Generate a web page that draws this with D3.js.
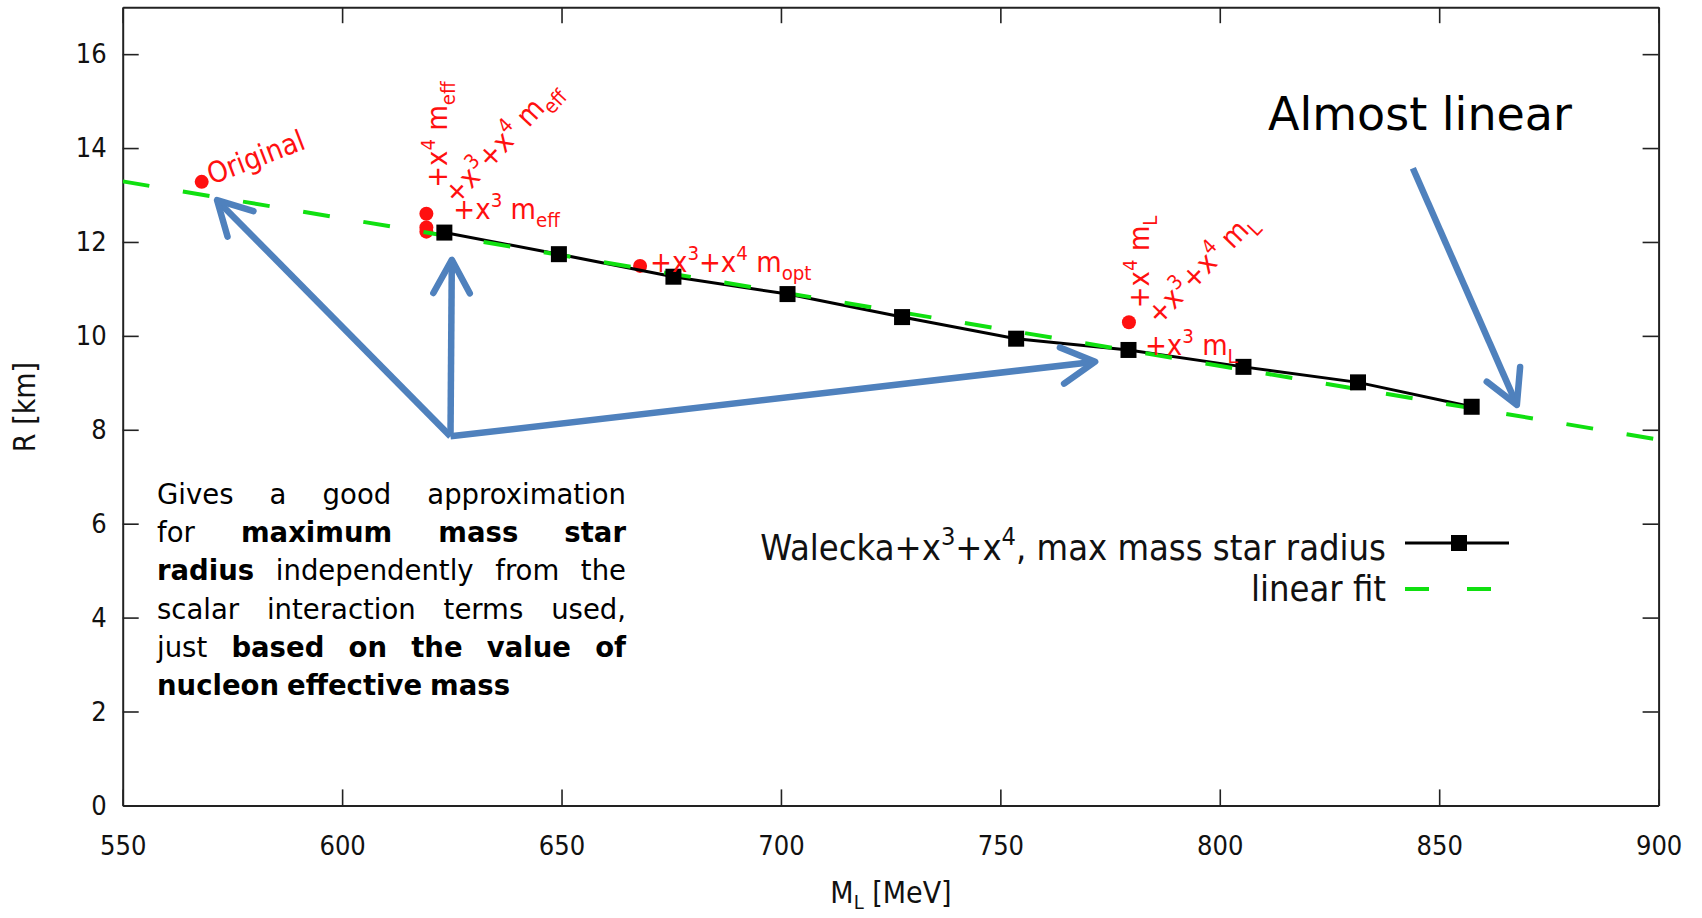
<!DOCTYPE html>
<html>
<head>
<meta charset="utf-8">
<script src="https://cdnjs.cloudflare.com/ajax/libs/d3/7.8.5/d3.min.js"></script>
<style>
body { margin: 0; background: #fff; }
</style>
</head>
<body>
<div id="chart-area"></div>
<script>
// Walecka+x3+x4 max mass star radius (black squares)
var walM = [623.3, 649.4, 675.5, 701.5, 727.6, 753.6, 779.2, 805.4, 831.5, 857.4]
var walR = [12.20, 11.74, 11.26, 10.89, 10.40, 9.94, 9.70, 9.34, 9.01, 8.49]

// linear fit end points
var fitM = [550, 900]
var fitR = [13.29, 7.79]

// red points (other parametrisations)
var redM = [568.0, 619.2, 619.2, 619.2, 667.9, 779.3, 779.2, 779.2]
var redR = [13.28, 12.60, 12.31, 12.22, 11.49, 10.29, 9.72, 9.70]

var xTicks = [550, 600, 650, 700, 750, 800, 850, 900]
var yTicks = [0, 2, 4, 6, 8, 10, 12, 14, 16]

// blue annotation arrows, in data units
var arrowFromM = [624.7, 624.7, 624.7, 844.0]
var arrowFromR = [7.86, 7.86, 7.86, 13.57]
var arrowToM = [571.5, 625.0, 771.6, 867.7]
var arrowToR = [12.89, 11.62, 9.45, 8.53]

var W = 1702, H = 918
var margin = { left: 122.7, right: W - 1658.6, top: 7.2, bottom: H - 805.4 }
var width = W - margin.left - margin.right
var height = H - margin.top - margin.bottom

var svg = d3.select("#chart-area").append("svg")
    .attr("width", W)
    .attr("height", H)
    .style("display", "block")
    .style("background", "#fff")

var g = svg.append("g")
    .attr("transform", "translate(" + margin.left + "," + margin.top + ")")

var xScale = d3.scaleLinear().domain([550, 900]).range([0, width])
var yScale = d3.scaleLinear().domain([0, 17]).range([height, 0])

var tickFont = "'DejaVu Sans Condensed', 'DejaVu Sans', sans-serif"
var tickLen = 16

function styleAxis(sel) {
    sel.select(".domain").attr("stroke", "#222").attr("stroke-width", 2)
    sel.selectAll(".tick line").attr("stroke", "#222").attr("stroke-width", 1.6)
    sel.selectAll("text").style("font-family", tickFont).style("font-size", "27px").attr("fill", "#111")
}

g.append("g")
    .attr("transform", "translate(0," + height + ")")
    .call(d3.axisBottom(xScale).tickValues(xTicks).tickSizeInner(-tickLen).tickSizeOuter(0).tickPadding(30).tickFormat(d3.format("d")))
    .call(styleAxis)
g.append("g")
    .call(d3.axisTop(xScale).tickValues(xTicks).tickSizeInner(-tickLen).tickSizeOuter(0).tickFormat(""))
    .call(styleAxis)
g.append("g")
    .call(d3.axisLeft(yScale).tickValues(yTicks).tickSizeInner(-tickLen).tickSizeOuter(0).tickPadding(16).tickFormat(d3.format("d")))
    .call(styleAxis)
g.append("g")
    .attr("transform", "translate(" + width + ",0)")
    .call(d3.axisRight(yScale).tickValues(yTicks).tickSizeInner(-tickLen).tickSizeOuter(0).tickFormat(""))
    .call(styleAxis)

// axis titles
svg.append("text")
    .attr("transform", "translate(35,407) rotate(-90)")
    .attr("text-anchor", "middle")
    .style("font-family", tickFont)
    .style("font-size", "30px")
    .attr("fill", "#111")
    .text("R [km]")

var xt = svg.append("text")
    .attr("x", 891).attr("y", 903)
    .attr("text-anchor", "middle")
    .style("font-family", tickFont)
    .style("font-size", "30px")
    .attr("fill", "#111")
xt.append("tspan").text("M")
xt.append("tspan").text("L").attr("dy", 6).style("font-size", "20px")
xt.append("tspan").text(" [MeV]").attr("dy", -6)

// text with super/subscripts
function rich(sel, parts, size) {
    var shift = 0
    parts.forEach(function(p) {
        var t = sel.append("tspan").text(p[0])
        var target = p[1] == "sup" ? -0.42 * size : p[1] == "sub" ? 0.28 * size : 0
        t.attr("dy", target - shift)
        shift = target
        if (p[1] != "n") t.style("font-size", (size * 0.7) + "px")
    })
}

var plot = g.append("g")
plot.append("clipPath").attr("id", "clip")
    .append("rect").attr("width", width).attr("height", height)

// red points
plot.selectAll(".red").data(d3.range(redM.length)).enter()
    .append("circle")
    .attr("class", "red")
    .attr("cx", function(i) { return xScale(redM[i]) })
    .attr("cy", function(i) { return yScale(redR[i]) })
    .attr("r", 7)
    .attr("fill", "#ff1010")

// black series line
var line = d3.line()
    .x(function(i) { return xScale(walM[i]) })
    .y(function(i) { return yScale(walR[i]) })
plot.append("path")
    .datum(d3.range(walM.length))
    .attr("d", line)
    .attr("fill", "none")
    .attr("stroke", "#000")
    .attr("stroke-width", 3)

// linear fit
var fitLine = d3.line()
    .x(function(i) { return xScale(fitM[i]) })
    .y(function(i) { return yScale(fitR[i]) })
plot.append("path")
    .datum(d3.range(fitM.length))
    .attr("d", fitLine)
    .attr("clip-path", "url(#clip)")
    .attr("fill", "none")
    .attr("stroke", "#10e010")
    .attr("stroke-width", 4)
    .attr("stroke-dasharray", "27,34")

plot.selectAll(".sq").data(d3.range(walM.length)).enter()
    .append("rect")
    .attr("class", "sq")
    .attr("x", function(i) { return xScale(walM[i]) - 8 })
    .attr("y", function(i) { return yScale(walR[i]) - 8 })
    .attr("width", 16)
    .attr("height", 16)
    .attr("fill", "#000")

// red labels: point index, pixel offset, rotation
var redFont = 29
var redLabels = [
    { i: 0, dx: 10, dy: 3, rot: -21, parts: [["Original", "n"]] },
    { i: 1, dx: 21, dy: -26, rot: -90, parts: [["+x", "n"], ["4", "sup"], [" m", "n"], ["eff", "sub"]] },
    { i: 1, dx: 30, dy: -8, rot: -47, parts: [["+x", "n"], ["3", "sup"], ["+x", "n"], ["4", "sup"], [" m", "n"], ["eff", "sub"]] },
    { i: 1, dx: 27, dy: 5, rot: 0, parts: [["+x", "n"], ["3", "sup"], [" m", "n"], ["eff", "sub"]] },
    { i: 4, dx: 10, dy: 6, rot: 0, parts: [["+x", "n"], ["3", "sup"], ["+x", "n"], ["4", "sup"], [" m", "n"], ["opt", "sub"]] },
    { i: 5, dx: 20, dy: -14, rot: -90, parts: [["+x", "n"], ["4", "sup"], [" m", "n"], ["L", "sub"]] },
    { i: 5, dx: 30, dy: 4, rot: -46, parts: [["+x", "n"], ["3", "sup"], ["+x", "n"], ["4", "sup"], [" m", "n"], ["L", "sub"]] },
    { i: 5, dx: 16, dy: 33, rot: 0, parts: [["+x", "n"], ["3", "sup"], [" m", "n"], ["L", "sub"]] }
]
redLabels.forEach(function(l) {
    var px = xScale(redM[l.i]) + l.dx
    var py = yScale(redR[l.i]) + l.dy
    var t = g.append("text")
        .attr("transform", "translate(" + px + "," + py + ") rotate(" + l.rot + ")")
        .style("font-family", tickFont)
        .style("font-size", redFont + "px")
        .attr("fill", "#ff1010")
    rich(t, l.parts, redFont)
})

// legend
var legend = svg.append("g").attr("transform", "translate(1386,0)")
var lt1 = legend.append("text")
    .attr("x", 0).attr("y", 560)
    .attr("text-anchor", "end")
    .style("font-family", tickFont)
    .style("font-size", "36px")
    .attr("fill", "#111")
rich(lt1, [["Walecka+x", "n"], ["3", "sup"], ["+x", "n"], ["4", "sup"], [", max mass star radius", "n"]], 36)
legend.append("text")
    .attr("x", 0).attr("y", 601)
    .attr("text-anchor", "end")
    .style("font-family", tickFont)
    .style("font-size", "36px")
    .attr("fill", "#111")
    .text("linear fit")
legend.append("line")
    .attr("x1", 19).attr("x2", 123).attr("y1", 543).attr("y2", 543)
    .attr("stroke", "#000").attr("stroke-width", 3)
legend.append("rect")
    .attr("x", 65).attr("y", 535).attr("width", 16).attr("height", 16)
    .attr("fill", "#000")
legend.append("line")
    .attr("x1", 19).attr("x2", 123).attr("y1", 589).attr("y2", 589)
    .attr("stroke", "#10e010").attr("stroke-width", 4)
    .attr("stroke-dasharray", "24,38")

// blue arrows
var blue = "#4f81bd"
d3.range(arrowFromM.length).forEach(function(i) {
    var x1 = xScale(arrowFromM[i]), y1 = yScale(arrowFromR[i])
    var x2 = xScale(arrowToM[i]), y2 = yScale(arrowToR[i])
    var a = Math.atan2(y2 - y1, x2 - x1)
    var hl = 38, ha = 0.5
    g.append("line")
        .attr("x1", x1).attr("y1", y1).attr("x2", x2).attr("y2", y2)
        .attr("stroke", blue).attr("stroke-width", 6.5)
    g.append("path")
        .attr("d", "M" + (x2 - hl * Math.cos(a - ha)) + "," + (y2 - hl * Math.sin(a - ha)) +
            "L" + x2 + "," + y2 +
            "L" + (x2 - hl * Math.cos(a + ha)) + "," + (y2 - hl * Math.sin(a + ha)))
        .attr("fill", "none")
        .attr("stroke", blue).attr("stroke-width", 6.5)
        .attr("stroke-linecap", "round").attr("stroke-linejoin", "round")
})

svg.append("text")
    .attr("x", 1268).attr("y", 130)
    .style("font-family", "'DejaVu Sans', sans-serif")
    .style("font-size", "46px")
    .attr("fill", "#000")
    .text("Almost linear")

// justified paragraph
var paraLines = [
    [["Gives a good approximation", false]],
    [["for", false], ["maximum mass star", true]],
    [["radius", true], ["independently from the", false]],
    [["scalar interaction terms used,", false]],
    [["just", false], ["based on the value of", true]],
    [["nucleon effective mass", true]]
]
var paraX = 157, paraW = 469, paraY = 504, paraStep = 38.2
var para = svg.append("g")
paraLines.forEach(function(segs, li) {
    var words = []
    segs.forEach(function(s) {
        s[0].split(" ").forEach(function(w) { words.push({ w: w, b: s[1] }) })
    })
    var y = paraY + li * paraStep
    var nodes = words.map(function(d) {
        return para.append("text")
            .attr("y", y)
            .style("font-family", "'DejaVu Sans', sans-serif")
            .style("font-size", "27.5px")
            .style("font-weight", d.b ? "bold" : "normal")
            .attr("fill", "#000")
            .text(d.w)
    })
    var widths = nodes.map(function(n) { return n.node().getComputedTextLength() })
    var total = d3.sum(widths)
    var last = li == paraLines.length - 1
    var gap = (last || words.length < 2) ? 8 : (paraW - total) / (words.length - 1)
    var x = paraX
    nodes.forEach(function(n, k) {
        n.attr("x", x)
        x += widths[k] + gap
    })
})
</script>
</body>
</html>
